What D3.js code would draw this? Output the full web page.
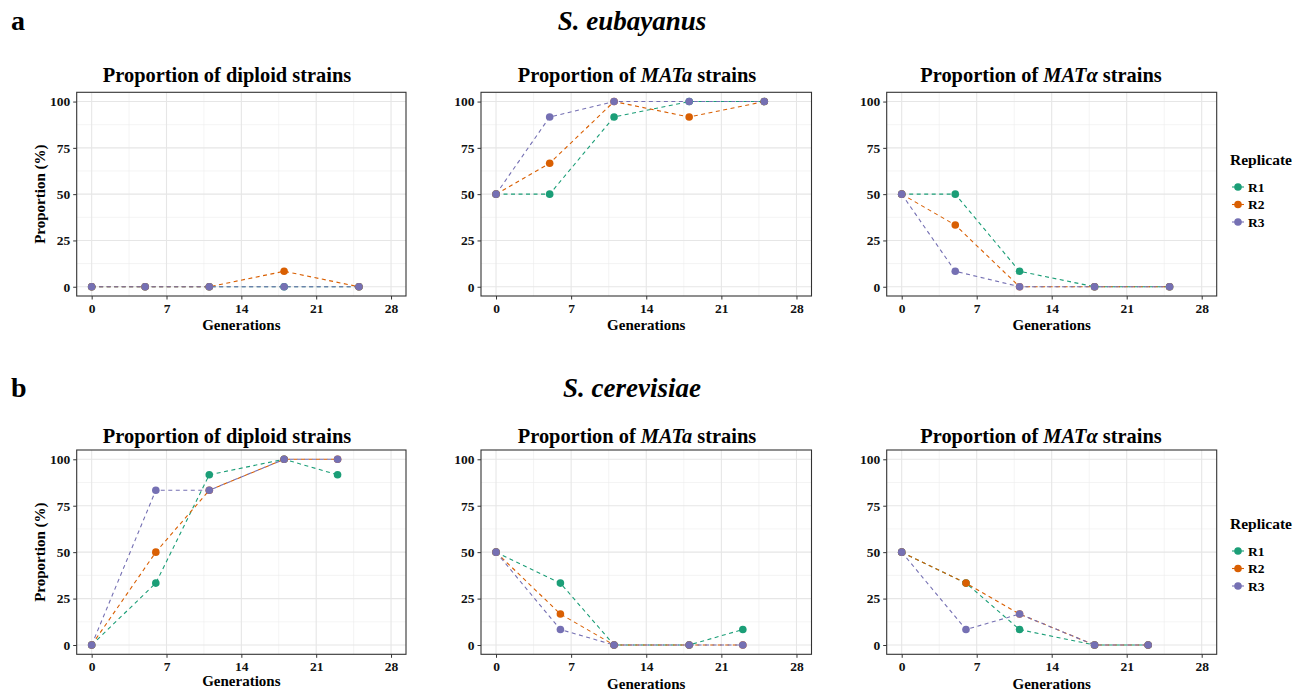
<!DOCTYPE html>
<html>
<head>
<meta charset="utf-8">
<script src="https://cdn.jsdelivr.net/npm/d3@7"></script>
<style>
    body { margin: 0; background: #fff; }
    text { font-family: "Liberation Serif", "Times New Roman", serif; }
</style>
</head>
<body>
<script>
//wrap everything in a self-executing anonymous function to move to local scope
(function(){

    //pseudo-global data arrays
    var replicates = ["R1", "R2", "R3"];
    var colors = ["#1B9E77", "#D95F02", "#7570B3"];
    var xTicks = [0, 7, 14, 21, 28];
    var yTicks = [0, 25, 50, 75, 100];

    //generations sampled for each species
    var genEub = [0, 5, 11, 18, 25];
    var genCer = [0, 6, 11, 18, 23];

    //S. eubayanus values, one array per replicate
    var eubDiploid = [[0, 0, 0, 0, 0], [0, 0, 0, 8.33, 0], [0, 0, 0, 0, 0]];
    var eubMATa = [[50, 50, 91.67, 100, 100], [50, 66.67, 100, 91.67, 100], [50, 91.67, 100, 100, 100]];
    var eubMATalpha = [[50, 50, 8.33, 0, 0], [50, 33.33, 0, 0, 0], [50, 8.33, 0, 0, 0]];

    //S. cerevisiae values
    var cerDiploid = [[0, 33.33, 91.67, 100, 91.67], [0, 50, 83.33, 100, 100], [0, 83.33, 83.33, 100, 100]];
    var cerMATa = [[50, 33.33, 0, 0, 8.33], [50, 16.67, 0, 0, 0], [50, 8.33, 0, 0, 0]];
    var cerMATalpha = [[50, 33.33, 8.33, 0, 0], [50, 33.33, 16.67, 0, 0], [50, 8.33, 16.67, 0, 0]];

    //begin script when window loads
    window.onload = setFigure();

function setFigure(){

    var width = 1296,
        height = 691;

    var svg = d3.select("body")
        .append("svg")
        .attr("width", width)
        .attr("height", height);

    //panel columns and rows (pixel frames), titles sit a little left of panel centre
    var cols = [[76.7, 406], [481, 811.5], [886.7, 1216.7]];
    var titleX = [227, 637, 1041];
    var rows = [
        {top: 92.3, bottom: 296, letter: "a", species: "S. eubayanus", head: 30, title: 82, genLab: [330, 330, 330], legend: 165},
        {top: 450, bottom: 654.3, letter: "b", species: "S. cerevisiae", head: 397, title: 443, genLab: [685.5, 688.5, 688.5], legend: 529}
    ];

    var panels = [
        [{gen: genEub, vals: eubDiploid, kind: "diploid"}, {gen: genEub, vals: eubMATa, kind: "a"}, {gen: genEub, vals: eubMATalpha, kind: "α"}],
        [{gen: genCer, vals: cerDiploid, kind: "diploid"}, {gen: genCer, vals: cerMATa, kind: "a"}, {gen: genCer, vals: cerMATalpha, kind: "α"}]
    ];

    rows.forEach(function(row, r){
        //panel letter and species heading
        svg.append("text")
            .attr("x", 11)
            .attr("y", row.head)
            .attr("font-size", 28)
            .attr("font-weight", "bold")
            .text(row.letter);

        svg.append("text")
            .attr("x", 632)
            .attr("y", row.head)
            .attr("text-anchor", "middle")
            .attr("font-size", 27)
            .attr("font-weight", "bold")
            .attr("font-style", "italic")
            .text(row.species);

        panels[r].forEach(function(p, c){
            drawPanel(svg, p, cols[c], titleX[c], row, c);
        });

        setLegend(svg, row.legend);
    });
};

function drawPanel(svg, p, col, tx, row, c){
    var x = d3.scaleLinear().domain([-1.4, 29.4]).range(col);
    var y = d3.scaleLinear().domain([-5, 105]).range([row.bottom, row.top]);

    var g = svg.append("g");

    //minor grid lines
    var xMinor = [3.5, 10.5, 17.5, 24.5],
        yMinor = [12.5, 37.5, 62.5, 87.5];

    g.selectAll(".xminor")
        .data(xMinor)
        .enter()
        .append("line")
        .attr("x1", function(d){ return x(d); })
        .attr("x2", function(d){ return x(d); })
        .attr("y1", row.top)
        .attr("y2", row.bottom)
        .attr("stroke", "#ececec")
        .attr("stroke-width", 0.6);

    g.selectAll(".yminor")
        .data(yMinor)
        .enter()
        .append("line")
        .attr("x1", col[0])
        .attr("x2", col[1])
        .attr("y1", function(d){ return y(d); })
        .attr("y2", function(d){ return y(d); })
        .attr("stroke", "#ececec")
        .attr("stroke-width", 0.6);

    //major grid lines
    g.selectAll(".xmajor")
        .data(xTicks)
        .enter()
        .append("line")
        .attr("x1", function(d){ return x(d); })
        .attr("x2", function(d){ return x(d); })
        .attr("y1", row.top)
        .attr("y2", row.bottom)
        .attr("stroke", "#e6e6e6")
        .attr("stroke-width", 1.1);

    g.selectAll(".ymajor")
        .data(yTicks)
        .enter()
        .append("line")
        .attr("x1", col[0])
        .attr("x2", col[1])
        .attr("y1", function(d){ return y(d); })
        .attr("y2", function(d){ return y(d); })
        .attr("stroke", "#e6e6e6")
        .attr("stroke-width", 1.1);

    //axes
    var xAxis = g.append("g")
        .attr("transform", "translate(0," + row.bottom + ")")
        .call(d3.axisBottom(x).tickValues(xTicks).tickSize(3.5).tickPadding(4));

    var yAxis = g.append("g")
        .attr("transform", "translate(" + col[0] + ",0)")
        .call(d3.axisLeft(y).tickValues(yTicks).tickSize(3.5).tickPadding(3));

    [xAxis, yAxis].forEach(function(a){
        a.select(".domain").remove();
        a.selectAll("line").attr("stroke", "#333");
        a.selectAll("text")
            .attr("fill", "#111")
            .attr("font-size", 13.5)
            .attr("font-weight", "bold")
            .attr("font-family", "Liberation Serif, serif");
    });

    //panel border
    g.append("rect")
        .attr("x", col[0])
        .attr("y", row.top)
        .attr("width", col[1] - col[0])
        .attr("height", row.bottom - row.top)
        .attr("fill", "none")
        .attr("stroke", "#333")
        .attr("stroke-width", 1.1);

    //panel title
    var title = g.append("text")
        .attr("x", tx)
        .attr("y", row.title)
        .attr("text-anchor", "middle")
        .attr("font-size", 20.4)
        .attr("font-weight", "bold");

    if (p.kind == "diploid"){
        title.text("Proportion of diploid strains");
    } else {
        title.append("tspan").text("Proportion of ");
        title.append("tspan").attr("font-style", "italic").text("MAT" + p.kind);
        title.append("tspan").text(" strains");
    };

    //axis titles
    g.append("text")
        .attr("x", (col[0] + col[1]) / 2)
        .attr("y", row.genLab[c])
        .attr("text-anchor", "middle")
        .attr("font-size", 15)
        .attr("font-weight", "bold")
        .text("Generations");

    if (c == 0){
        g.append("text")
            .attr("transform", "translate(45," + ((row.top + row.bottom) / 2) + ") rotate(-90)")
            .attr("text-anchor", "middle")
            .attr("font-size", 15)
            .attr("font-weight", "bold")
            .text("Proportion (%)");
    };

    //dashed lines for each replicate
    var line = d3.line()
        .x(function(d){ return x(d[0]); })
        .y(function(d){ return y(d[1]); });

    p.vals.forEach(function(vals, i){
        var pts = p.gen.map(function(gv, k){ return [gv, vals[k]]; });
        g.append("path")
            .datum(pts)
            .attr("d", line)
            .attr("fill", "none")
            .attr("stroke", colors[i])
            .attr("stroke-width", 1.1)
            .attr("stroke-dasharray", "4,3.5");
    });

    //points drawn above all lines
    p.vals.forEach(function(vals, i){
        var pts = p.gen.map(function(gv, k){ return [gv, vals[k]]; });
        g.selectAll(".pt" + i)
            .data(pts)
            .enter()
            .append("circle")
            .attr("cx", function(d){ return x(d[0]); })
            .attr("cy", function(d){ return y(d[1]); })
            .attr("r", 3.8)
            .attr("fill", colors[i]);
    });
};

function setLegend(svg, top){
    svg.append("text")
        .attr("x", 1230)
        .attr("y", top)
        .attr("font-size", 15.5)
        .attr("font-weight", "bold")
        .text("Replicate");

    var keys = svg.selectAll(".key" + top)
        .data(replicates)
        .enter()
        .append("g")
        .attr("transform", function(d, i){ return "translate(1238," + (top + 22 + i * 17.5) + ")"; });

    keys.append("line")
        .attr("x1", -6)
        .attr("x2", 6)
        .attr("stroke", function(d, i){ return colors[i]; })
        .attr("stroke-width", 1.1);

    keys.append("circle")
        .attr("r", 3.8)
        .attr("fill", function(d, i){ return colors[i]; });

    keys.append("text")
        .attr("x", 10)
        .attr("y", 4.5)
        .attr("font-size", 13.5)
        .attr("font-weight", "bold")
        .text(function(d){ return d; });
};

})();
</script>
</body>
</html>
